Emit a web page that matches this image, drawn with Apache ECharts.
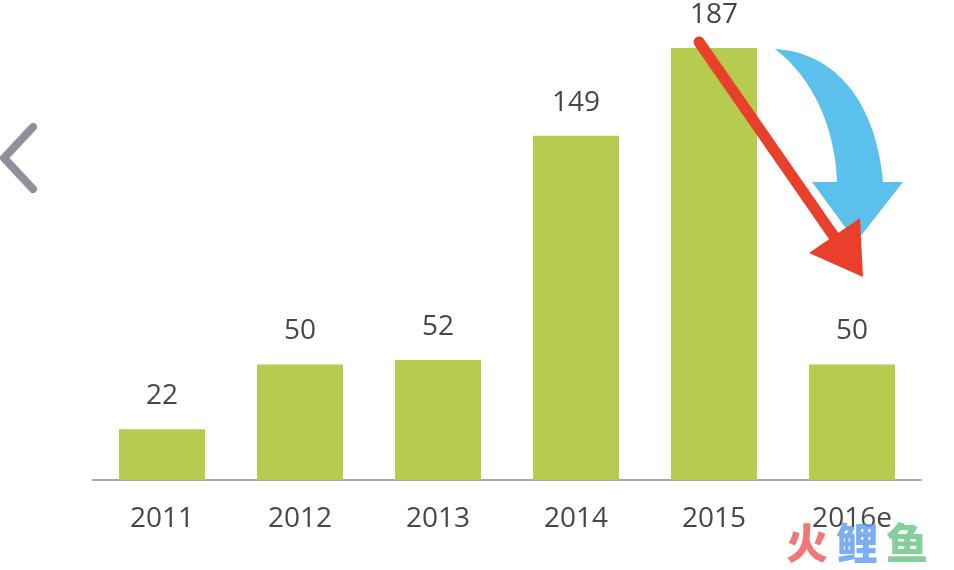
<!DOCTYPE html>
<html>
<head>
<meta charset="utf-8">
<script src="https://cdn.jsdelivr.net/npm/echarts@6/dist/echarts.min.js"></script>
<style>html,body{margin:0;padding:0;background:#fff;}#c{width:954px;height:570px;}</style>
</head>
<body>
<div id="c"></div>
<script>
var categories = ['2011', '2012', '2013', '2014', '2015', '2016e'];
var values = [22, 50, 52, 149, 187, 50];

function bez(p0, p1, p2, p3, n) {
  var out = [];
  for (var i = 0; i <= n; i++) {
    var t = i / n, u = 1 - t;
    out.push([
      u*u*u*p0[0] + 3*u*u*t*p1[0] + 3*u*t*t*p2[0] + t*t*t*p3[0],
      u*u*u*p0[1] + 3*u*u*t*p1[1] + 3*u*t*t*p2[1] + t*t*t*p3[1]
    ]);
  }
  return out;
}
var blue = []
  .concat(bez([775, 49], [830, 52], [875, 95], [883, 182], 30))
  .concat([[903, 182], [856, 242], [812, 182], [837, 182]])
  .concat(bez([837, 182], [835, 130], [815, 80], [775, 49], 30));

var chart = echarts.init(document.getElementById('c'));
chart.setOption({
  animation: false,
  backgroundColor: '#ffffff',
  grid: { left: 93, right: 33, top: 18, bottom: 90 },
  xAxis: {
    type: 'category',
    data: categories,
    axisLine: { lineStyle: { color: '#a9a9ad', width: 2 } },
    axisTick: { show: false },
    axisLabel: { color: '#474747', fontSize: 28, fontFamily: 'Open Sans', margin: 25 }
  },
  yAxis: {
    type: 'value', min: 0, max: 200,
    show: false, splitLine: { show: false }
  },
  series: [{
    type: 'bar',
    data: values,
    barWidth: 86,
    itemStyle: { color: '#b6cc4f' },
    label: {
      show: true, position: 'top', distance: 19,
      color: '#474747', fontSize: 28, fontFamily: 'Open Sans'
    }
  }],
  graphic: [
    { type: 'polyline', z: 10,
      shape: { points: [[33, 127], [4, 158], [33, 189]] },
      style: { stroke: '#8e919c', lineWidth: 8, lineCap: 'round', lineJoin: 'round', fill: null } },
    { type: 'polygon', z: 10,
      shape: { points: blue },
      style: { fill: '#5bc1ec' } },
    { type: 'line', z: 11,
      shape: { x1: 699, y1: 42, x2: 842, y2: 248 },
      style: { stroke: '#e8402a', lineWidth: 11, lineCap: 'round' } },
    { type: 'polygon', z: 11,
      shape: { points: [[809, 253], [863, 277], [860, 218]] },
      style: { fill: '#e8402a' } },
    { type: 'text', z: 12, left: 786, top: 522,
      style: { text: '火', fill: 'rgba(240,95,95,0.85)', font: '900 42px "Noto Sans CJK SC"' } },
    { type: 'text', z: 12, left: 836, top: 522,
      style: { text: '鲤', fill: 'rgba(100,160,240,0.85)', font: '900 42px "Noto Sans CJK SC"' } },
    { type: 'text', z: 12, left: 886, top: 522,
      style: { text: '鱼', fill: 'rgba(110,200,140,0.85)', font: '900 42px "Noto Sans CJK SC"' } }
  ]
});
</script>
</body>
</html>
